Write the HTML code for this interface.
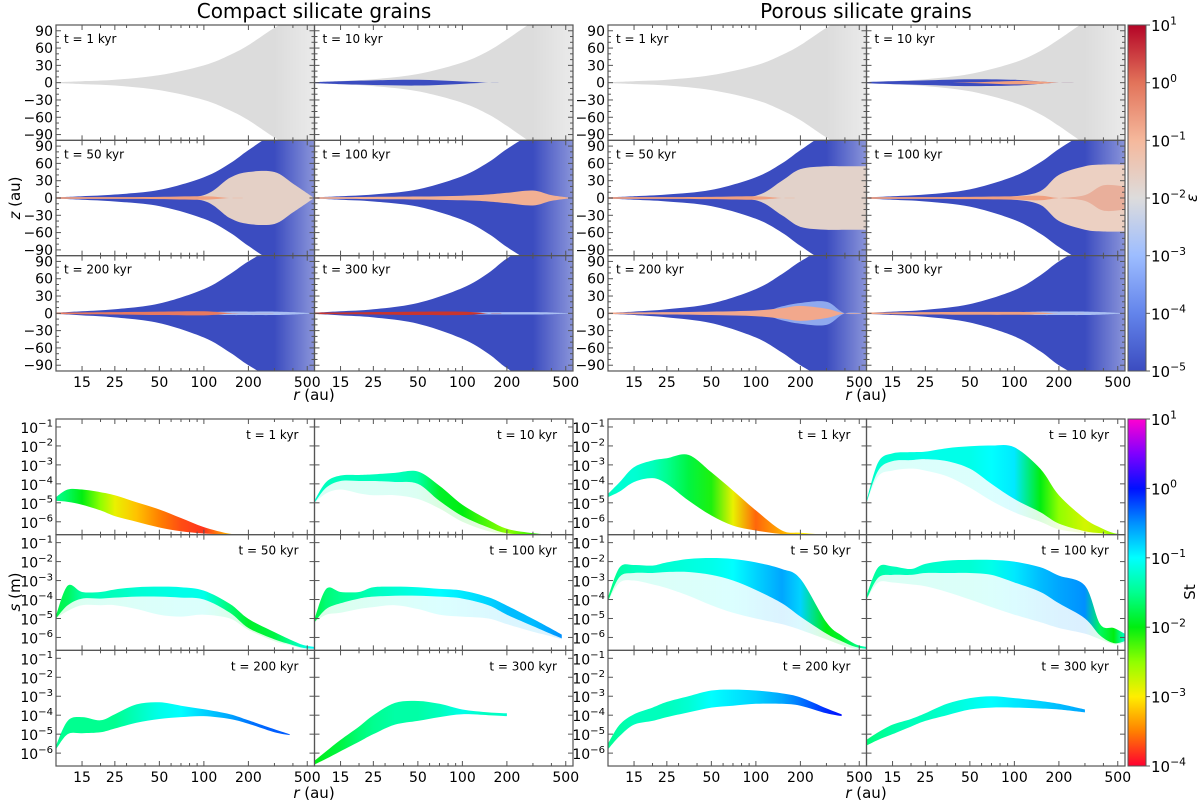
<!DOCTYPE html>
<html><head><meta charset="utf-8"><style>
html,body{margin:0;padding:0;background:#fff;}
svg{display:block;font-family:"DejaVu Sans","Liberation Sans",sans-serif;}
</style></head><body>
<svg id="fig" width="1200" height="804" viewBox="0 0 1200 804" xmlns="http://www.w3.org/2000/svg">
<defs id="defs">
<linearGradient id="epsbar" x1="0" y1="1" x2="0" y2="0">
<stop offset="0" stop-color="#3b4cc0"/><stop offset="0.1667" stop-color="#6384eb"/><stop offset="0.3333" stop-color="#9dbdff"/><stop offset="0.5" stop-color="#dddcdc"/><stop offset="0.6667" stop-color="#f5b89c"/><stop offset="0.8333" stop-color="#e2735a"/><stop offset="1" stop-color="#b40426"/>
</linearGradient>
<linearGradient id="stbar" x1="0" y1="1" x2="0" y2="0">
<stop offset="0" stop-color="#ff0030"/><stop offset="0.1" stop-color="#ff8000"/><stop offset="0.2" stop-color="#ffee00"/><stop offset="0.3" stop-color="#90ff00"/><stop offset="0.4" stop-color="#00ee10"/><stop offset="0.5" stop-color="#00ff90"/><stop offset="0.6" stop-color="#00ffff"/><stop offset="0.7" stop-color="#0090ff"/><stop offset="0.8" stop-color="#0010ff"/><stop offset="0.9" stop-color="#8000ff"/><stop offset="1" stop-color="#ff00d0"/>
</linearGradient>
</defs>
<text x="314" y="18" font-size="20" text-anchor="middle">Compact silicate grains</text>
<text x="866" y="18" font-size="20" text-anchor="middle">Porous silicate grains</text>
<text transform="translate(20,198) rotate(-90)" font-size="15" text-anchor="middle"><tspan font-style="italic">z</tspan> (au)</text>
<text transform="translate(20,592) rotate(-90)" font-size="15" text-anchor="middle"><tspan font-style="italic">s</tspan> (m)</text>
<text x="314" y="400" font-size="15" text-anchor="middle"><tspan font-style="italic">r</tspan> (au)</text>
<text x="866" y="400" font-size="15" text-anchor="middle"><tspan font-style="italic">r</tspan> (au)</text>
<text x="314" y="798" font-size="15" text-anchor="middle"><tspan font-style="italic">r</tspan> (au)</text>
<text x="866" y="798" font-size="15" text-anchor="middle"><tspan font-style="italic">r</tspan> (au)</text>
<text transform="translate(1197,198) rotate(-90)" font-size="15" text-anchor="middle" font-style="italic">ε</text>
<text transform="translate(1195,592) rotate(-90)" font-size="15" text-anchor="middle">St</text>
<rect x="1128" y="25" width="18" height="346" fill="url(#epsbar)" stroke="#555" stroke-width="1"/>
<rect x="1128" y="419" width="18" height="347" fill="url(#stbar)" stroke="#555" stroke-width="1"/>
<g id="plots"></g>
</svg>
<script>
// ---------- data ----------
const timesLabels = ["t = 1 kyr","t = 10 kyr","t = 50 kyr","t = 100 kyr","t = 200 kyr","t = 300 kyr"];
const xTickLabels = [15,25,50,100,200,500];
const xMinor = [20,30,40,60,70,80,90,300,400];
const zTickLabels = [90,60,30,0,-30,-60,-90];
const sTickExps = [-1,-2,-3,-4,-5,-6];
const epsTickExps = [1,0,-1,-2,-3,-4,-5];
const stTickExps = [1,0,-1,-2,-3,-4];
// top panels: half-height (au) of layers on rTop grid
const rTop = [10,15,25,50,100,150,200,300,400,557];
const hGrayC1 = [0.8,2.5,5,13,30,48,65,95,110,110];
const hGrayC10 = [1,3,6,15,35,55,75,105,115,115];
const hBlueC10 = [1,2.5,4,5,2,0,0,0,0,0];
const hBlueC50 = [1,3,6,14,36,60,83,112,120,120];
const hCreamC50 = [0,0,0,0,5,35,45,45,25,0];
const hMidC50 = [1.5,1.5,1.5,2,3,0,0,0,0,0];
const hBlueC100 = [1,3,6,15,38,62,85,112,120,120];
const hCoreC100 = [1.5,1.5,2,2.5,4,6,9,13,5,0];
const hBlueC200 = [1,3.5,7,17,42,68,90,115,125,125];
const hBandC200 = [0,0,0,0,2,3,3,3,2,0];
const hCoreC200 = [1.5,1.5,2,3,3.5,0.5,0,0,0,0];
const hBlueC300 = [1,3.5,7,18,44,70,95,120,125,125];
const hBandC300 = [0,0,0,0,1.5,2,2,2,1.5,0];
const hCoreC300 = [1.5,1.5,2,3,3,0,0,0,0,0];
const hGrayP1 = [0.8,2.5,5,13,30,48,65,95,110,110];
const hGrayP10 = [1,3,6,15,35,55,75,105,115,115];
const hBlueP10 = [1,2.5,4,6,5,2,0,0,0,0];
const hOrangeP10 = [0,0,0,0.5,3,2,0,0,0,0];
const hBlueP50 = [1,3,6,14,36,60,83,112,120,120];
const hCreamP50 = [0,0,0,0,4,30,50,55,55,55];
const hMidP50 = [1.5,1.5,1.5,2,3,0,0,0,0,0];
const hBlueP100 = [1,3,6,15,38,62,85,112,120,120];
const hCreamP100 = [0,0,0,0,3,12,40,55,58,58];
const hMidP100 = [1.5,1.5,1.5,2,3,4,0,0,0,0];
const hBlobP100 = [0,0,0,0,0,0,0,5,22,20];
const hBlueP200 = [1,3,7,17,42,68,90,115,125,125];
const hRingP200 = [0,0,0,0,0,12,18,20,0,0];
const hCoreP200 = [1.5,1.5,2,3,5,9,13,8,0,0];
const hBlueP300 = [1,3,6,16,40,66,90,115,125,125];
const hBandP300 = [0,0,0,0,2,3,3,3,2,0];
const hCoreP300 = [1.5,1.5,2,2.5,2.5,1.5,0,0,0,0];
// bottom panels: log10 s envelopes and log10 St on rBot grid
const rBot = [10,12,15,20,25,35,50,70,100,150,200,300,380,470,557];
const upC1 = [-4.7,-4.3,-4.3,-4.44,-4.6,-4.97,-5.35,-5.8,-6.28,-6.63,-6.67,-6.68,-6.68,-6.68,-6.68];
const loC1 = [-4.9,-4.95,-5.1,-5.4,-5.7,-6.0,-6.3,-6.5,-6.62,-6.67,-6.68,-6.7,-6.7,-6.7,-6.7];
const stC1 = [-1.5,-1.7,-2,-2.5,-2.9,-3.2,-3.5,-3.7,-3.8,-3.2,-3,-3,-3,-3,-3];
const upC10 = [-4.88,-3.9,-3.56,-3.53,-3.5,-3.42,-3.35,-4.1,-5.1,-5.9,-6.37,-6.6,-6.66,-6.68,-6.68];
const loC10 = [-5.0,-4.2,-3.85,-3.85,-3.85,-3.9,-4.0,-4.9,-5.7,-6.3,-6.6,-6.68,-6.7,-6.7,-6.7];
const spC10 = [-5,-4.5,-4.3,-4.5,-4.6,-4.6,-4.8,-5.3,-6.0,-6.5,-6.65,-6.7,-6.7,-6.7,-6.7];
const stC10 = [-1.2,-1.3,-1.3,-1.3,-1.3,-1.3,-1.4,-1.9,-2.0,-2.3,-2.5,-2.2,-2.1,-2,-2];
const upC50 = [-4.84,-3.27,-3.6,-3.6,-3.47,-3.35,-3.32,-3.35,-3.53,-4.23,-5.02,-5.72,-6.1,-6.4,-6.5];
const loC50 = [-5.0,-4.3,-3.95,-3.95,-3.9,-3.85,-3.85,-3.9,-4.0,-4.7,-5.5,-6.1,-6.35,-6.55,-6.6];
const spC50 = [-5.0,-4.6,-4.3,-4.3,-4.3,-4.5,-4.8,-4.9,-4.8,-5.0,-5.6,-6.2,-6.4,-6.6,-6.65];
const stC50 = [-1.8,-1.7,-1.4,-1.3,-1.3,-1.2,-1.15,-1.1,-1.1,-1.6,-1.9,-1.8,-1.5,-1.2,-1.0];
const upC100 = [-5.02,-3.44,-3.6,-3.6,-3.35,-3.32,-3.35,-3.44,-3.53,-3.88,-4.32,-5.02,-5.45,-5.85,null];
const loC100 = [-5.2,-4.5,-4.2,-3.95,-3.85,-3.8,-3.8,-3.85,-3.95,-4.3,-4.8,-5.4,-5.75,-6.05,null];
const spC100 = [-5.2,-4.8,-4.7,-4.5,-4.4,-4.3,-4.5,-4.8,-4.9,-5.0,-5.3,-5.7,-5.9,-6.1,null];
const stC100 = [-1.8,-1.6,-1.5,-1.4,-1.3,-1.2,-1.1,-1.0,-0.9,-0.8,-0.7,-0.7,-0.6,-0.5,null];
const upC200 = [-5.6,-4.3,-4.1,-4.27,-3.95,-3.43,-3.32,-3.5,-3.69,-3.95,-4.27,-4.74,-5.0,null,null];
const loC200 = [-5.8,-5.0,-4.95,-4.9,-4.7,-4.4,-4.2,-4.1,-4.05,-4.2,-4.45,-4.9,-5.05,null,null];
const stC200 = [-1.5,-1.5,-1.5,-1.5,-1.5,-1.3,-1.1,-1,-0.8,-0.6,-0.4,-0.3,-0.3,null,null];
const upC300 = [-6.4,-5.9,-5.3,-4.6,-4.0,-3.35,-3.25,-3.4,-3.7,-3.85,-3.9,null,null,null,null];
const loC300 = [-6.6,-6.3,-5.9,-5.4,-5.0,-4.5,-4.3,-4.1,-3.95,-4.0,-4.05,null,null,null,null];
const stC300 = [-2,-1.9,-1.8,-1.6,-1.5,-1.4,-1.4,-1.3,-1.1,-1.3,-1.2,null,null,null,null];
const upP1 = [-4.53,-3.91,-3.12,-2.77,-2.65,-2.47,-3.39,-4.35,-5.4,-6.46,-6.58,-6.68,-6.68,-6.68,-6.68];
const loP1 = [-4.7,-4.4,-3.9,-3.7,-4.0,-4.88,-5.67,-6.2,-6.46,-6.65,-6.68,-6.7,-6.7,-6.7,-6.7];
const stP1 = [-1.3,-1.2,-1.2,-1.3,-1.5,-1.8,-2.1,-2.9,-3.6,-3.3,-3,-3,-3,-3,-3];
const upP10 = [-4.9,-2.86,-2.39,-2.33,-2.3,-2.12,-2.02,-1.98,-2.07,-3.21,-4.6,-5.84,-6.3,-6.6,-6.65];
const loP10 = [-5.0,-3.3,-2.8,-2.75,-2.7,-2.8,-3.2,-4.0,-4.8,-5.5,-6.1,-6.5,-6.6,-6.68,-6.7];
const spP10 = [-5,-3.6,-3.3,-3.2,-3.3,-3.6,-4.2,-4.9,-5.5,-6.0,-6.4,-6.6,-6.65,-6.7,-6.7];
const stP10 = [-1.3,-1.2,-1.2,-1.15,-1.1,-1.1,-1.1,-1.0,-0.9,-2.0,-2.5,-2.8,-2.7,-2.5,-2.3];
const upP50 = [-3.88,-2.3,-2.18,-2.21,-2.04,-1.86,-1.81,-1.86,-2.04,-2.39,-2.91,-5.2,-5.9,-6.35,-6.5];
const loP50 = [-4.1,-2.8,-2.6,-2.6,-2.55,-2.55,-2.7,-3.0,-3.5,-4.2,-4.9,-5.8,-6.2,-6.5,-6.6];
const spP50 = [-4.1,-3.1,-3.0,-3.2,-3.4,-3.8,-4.3,-4.7,-5.0,-5.3,-5.6,-6.1,-6.4,-6.6,-6.65];
const stP50 = [-1.6,-1.4,-1.3,-1.25,-1.2,-1.15,-1.1,-1.0,-0.8,-0.6,-0.8,-2.0,-1.9,-1.6,-1.3];
const upP100 = [-3.79,-2.3,-2.25,-2.39,-2.12,-1.95,-1.91,-1.91,-2.0,-2.3,-2.74,-3.27,-5.3,-5.5,-5.8];
const loP100 = [-4.0,-2.85,-2.7,-2.7,-2.6,-2.6,-2.6,-2.7,-3.1,-3.6,-4.2,-5.0,-5.9,-6.3,-6.2];
const spP100 = [-4.0,-3.1,-3.1,-3.2,-3.3,-3.6,-4.0,-4.4,-4.8,-5.2,-5.5,-5.8,-6.1,-6.35,-6.3];
const stP100 = [-1.5,-1.4,-1.3,-1.3,-1.25,-1.2,-1.2,-1.1,-0.9,-0.7,-0.6,-0.5,-1.7,-2.0,-1.2];
const upP200 = [-5.5,-4.5,-3.95,-3.6,-3.3,-3.0,-2.7,-2.65,-2.7,-2.85,-3.06,-3.64,-3.95,null,null];
const loP200 = [-5.8,-5.1,-4.5,-4.3,-4.1,-3.85,-3.6,-3.5,-3.4,-3.4,-3.5,-3.9,-4.05,null,null];
const stP200 = [-1.5,-1.4,-1.3,-1.3,-1.3,-1.2,-1.0,-0.9,-0.8,-0.6,-0.4,-0.1,0,null,null];
const upP300 = [-5.3,-4.9,-4.5,-4.2,-3.9,-3.4,-3.1,-3.0,-3.1,-3.25,-3.4,-3.7,null,null,null];
const loP300 = [-5.6,-5.3,-5.0,-4.6,-4.3,-4.0,-3.7,-3.6,-3.6,-3.65,-3.7,-3.85,null,null,null];
const stP300 = [-1.6,-1.5,-1.4,-1.3,-1.3,-1.2,-1.1,-1.0,-0.9,-0.8,-0.7,-0.6,null,null,null];

// ---------- layout ----------
const NS = "http://www.w3.org/2000/svg";
const GX = [56, 608], W = 258.5, TOPY = 25, TH = 115.33, BOTY = 419, BH = 115.67;
const XMIN = 1, XSPAN = 1.748, SMAX = -0.58, SSPAN = 6.1;
function xS(x0, r){ return x0 + (Math.log10(r) - XMIN) / XSPAN * W; }
function zS(y0, z){ return y0 + TH/2 - z * (TH/2) / 100; }
function sS(y0, ls){ return y0 + (SMAX - ls) / SSPAN * BH; }
const plots = document.getElementById('plots');
const defs = document.getElementById('defs');
function mk(tag, attrs, parent){ const e = document.createElementNS(NS, tag); for (const k in attrs) e.setAttribute(k, attrs[k]); (parent||plots).appendChild(e); return e; }
function crPath(pts){
  if (!pts.length) return "";
  let d = "M" + pts[0][0].toFixed(2) + "," + pts[0][1].toFixed(2);
  for (let i = 0; i < pts.length - 1; i++) {
    const p0 = pts[Math.max(0,i-1)], p1 = pts[i], p2 = pts[i+1], p3 = pts[Math.min(pts.length-1,i+2)];
    const c1 = [p1[0] + (p2[0]-p0[0])/6, p1[1] + (p2[1]-p0[1])/6];
    const c2 = [p2[0] - (p3[0]-p1[0])/6, p2[1] - (p3[1]-p1[1])/6];
    d += "C" + c1[0].toFixed(2) + "," + c1[1].toFixed(2) + " " + c2[0].toFixed(2) + "," + c2[1].toFixed(2) + " " + p2[0].toFixed(2) + "," + p2[1].toFixed(2);
  }
  return d;
}
function crCont(pts){ const d = crPath(pts); return "L" + d.slice(1); }
const stStops = [[-4,[255,0,48]],[-3.5,[255,128,0]],[-3,[255,238,0]],[-2.5,[144,255,0]],[-2,[0,238,16]],[-1.5,[0,255,144]],[-1,[0,255,255]],[-0.5,[0,144,255]],[0,[0,16,255]],[0.5,[128,0,255]],[1,[255,0,208]]];
function stColor(v){
  v = Math.max(-4, Math.min(1, v));
  for (let i = 0; i < stStops.length - 1; i++) {
    const a = stStops[i], b = stStops[i+1];
    if (v <= b[0]) { const t = (v - a[0]) / (b[0] - a[0]); const c = a[1].map((x,j)=>Math.round(x + (b[1][j]-x)*t)); return "rgb(" + c.join(",") + ")"; }
  }
  return "rgb(255,0,208)";
}
function exp10(parent, x, y, e, anchor, size){
  const t = mk('text', {x:x, y:y, 'font-size':size, 'text-anchor':anchor}, parent);
  t.textContent = "10";
  const s = document.createElementNS(NS, 'tspan');
  s.setAttribute('dy', -size*0.45); s.setAttribute('font-size', size*0.72);
  s.textContent = (e < 0 ? "\u2212" : "") + Math.abs(e);
  t.appendChild(s);
  return t;
}

function frame(g, x0, y0, h, kind, showX, showY, name){
  const fr = mk('rect', {x:x0, y:y0, width:W, height:h, fill:'none', stroke:'#555', 'stroke-width':1.2}, g);
  
  
  const tk = mk('g', {stroke:'#555', 'stroke-width':1}, g);
  
  
  xTickLabels.forEach(v => { const x = xS(x0, v);
    mk('line', {x1:x, y1:y0+h, x2:x, y2:y0+h-5}, tk); mk('line', {x1:x, y1:y0, x2:x, y2:y0+5}, tk); });
  xMinor.forEach(v => { const x = xS(x0, v);
    mk('line', {x1:x, y1:y0+h, x2:x, y2:y0+h-3}, tk); mk('line', {x1:x, y1:y0, x2:x, y2:y0+3}, tk); });
  if (kind === 'z') {
    for (let z = -90; z <= 90; z += 10) { const y = zS(y0, z), L = (z % 30 === 0) ? 5 : 3;
      mk('line', {x1:x0, y1:y, x2:x0+L, y2:y}, tk); mk('line', {x1:x0+W, y1:y, x2:x0+W-L, y2:y}, tk); }
  } else {
    sTickExps.forEach(e => { const y = sS(y0, e);
      mk('line', {x1:x0, y1:y, x2:x0+5, y2:y}, tk); mk('line', {x1:x0+W, y1:y, x2:x0+W-5, y2:y}, tk); });
  }
  if (showX) {
    xTickLabels.forEach(v => { const t = mk('text', {x:xS(x0, v), y:y0+h+16, 'font-size':14, 'text-anchor':'middle'}, g);
      t.textContent = v;
      
       });
  }
  if (showY) {
    if (kind === 'z') {
      zTickLabels.forEach(z => { const t = mk('text', {x:x0-3, y:zS(y0, z)+5, 'font-size':14, 'text-anchor':'end'}, g);
        t.textContent = (z < 0 ? "\u2212" : "") + Math.abs(z);
        
         });
    } else {
      sTickExps.forEach(e => { const t = exp10(g, x0-3, sS(y0, e)+6, e, 'end', 14);
        
         });
    }
  }
}

let pid = 0;
function topPanel(gi, col, row, layers, label){
  const x0 = GX[gi] + col*W, y0 = TOPY + row*TH; pid++;
  const g = mk('g', {});
  
  
  const cp = mk('clipPath', {id:'cp'+pid}, defs); mk('rect', {x:x0, y:y0, width:W, height:TH}, cp);
  const fg = mk('linearGradient', {id:'fade'+pid, gradientUnits:'userSpaceOnUse', x1:xS(x0,300), y1:0, x2:x0+W, y2:0}, defs);
  mk('stop', {offset:0, 'stop-color':'#fff', 'stop-opacity':1}, fg); mk('stop', {offset:1, 'stop-color':'#fff', 'stop-opacity':0.6}, fg);
  const mask = mk('mask', {id:'mk'+pid, maskUnits:'userSpaceOnUse', x:x0, y:y0, width:W, height:TH}, defs);
  mk('rect', {x:x0, y:y0, width:W, height:TH, fill:'url(#fade'+pid+')'}, mask);
  const cg = mk('g', {'clip-path':'url(#cp'+pid+')'}, g);
  layers.forEach((L, li) => {
    const up = [], dn = [];
    rTop.forEach((r, i) => { up.push([xS(x0, r), zS(y0, L.h[i])]); dn.push([xS(x0, r), zS(y0, -L.h[i])]); });
    dn.reverse();
    const p = mk('path', {d: crPath(up) + crCont(dn) + "Z", fill:L.c, opacity: L.o || 1}, cg);
    if (li === 0) p.setAttribute('mask', 'url(#mk'+pid+')');
    
    
  });
  const t = mk('text', {x:x0+8, y:y0+18, 'font-size':12}, g); t.textContent = label;
  
  
  frame(g, x0, y0, TH, 'z', row === 2, col === 0, 'disk-panel');
}

function botPanel(gi, col, row, up, lo, sp, st, label){
  const x0 = GX[gi] + col*W, y0 = BOTY + row*BH; pid++;
  const g = mk('g', {});
  
  
  const cp = mk('clipPath', {id:'cp'+pid}, defs); mk('rect', {x:x0, y:y0, width:W, height:BH}, cp);
  const gr = mk('linearGradient', {id:'sg'+pid, gradientUnits:'userSpaceOnUse', x1:x0, y1:0, x2:x0+W, y2:0}, defs);
  rBot.forEach((r, i) => { if (st[i] === null) return;
    mk('stop', {offset: ((xS(x0, r) - x0) / W).toFixed(4), 'stop-color': stColor(st[i])}, gr); });
  const cg = mk('g', {'clip-path':'url(#cp'+pid+')'}, g);
  const idx = rBot.map((r,i)=>i).filter(i => up[i] !== null);
  function band(top, bot, op, nm){
    const a = idx.map(i => [xS(x0, rBot[i]), sS(y0, top[i])]);
    const b = idx.map(i => [xS(x0, rBot[i]), sS(y0, bot[i])]).reverse();
    const p = mk('path', {d: crPath(a) + crCont(b) + "Z", fill:'url(#sg'+pid+')', opacity:op}, cg);
    
    
  }
  if (sp) band(lo, sp, 0.14, 'sparse-particles');
  band(up, lo, 1, 'dense-particles');
  const t = mk('text', {x:x0+W-16, y:y0+20, 'font-size':12, 'text-anchor':'end'}, g); t.textContent = label;
  
  
  frame(g, x0, y0, BH, 's', row === 2, col === 0, 'size-panel');
}

const BLUE = '#3b4cc0', GRAY = '#dcdcdc';
topPanel(0,0,0,[{c:GRAY,h:hGrayC1,n:'gas-dominated-region'}],timesLabels[0]);
topPanel(0,1,0,[{c:GRAY,h:hGrayC10,n:'gray-region'},{c:BLUE,h:hBlueC10,n:'dust-poor-midplane'}],timesLabels[1]);
topPanel(0,0,1,[{c:BLUE,h:hBlueC50,n:'dust-poor-envelope'},{c:'#e4d0c6',h:hCreamC50,n:'cream-core'},{c:'#f0a080',h:hMidC50,n:'midplane-layer'}],timesLabels[2]);
topPanel(0,1,1,[{c:BLUE,h:hBlueC100,n:'dust-poor-envelope'},{c:'#f2b093',h:hCoreC100,n:'midplane-layer'}],timesLabels[3]);
topPanel(0,0,2,[{c:BLUE,h:hBlueC200,n:'dust-poor-envelope'},{c:'#a9bff2',h:hBandC200,n:'light-band'},{c:'#e8795f',h:hCoreC200,n:'midplane-layer'}],timesLabels[4]);
topPanel(0,1,2,[{c:BLUE,h:hBlueC300,n:'dust-poor-envelope'},{c:'#a9bff2',h:hBandC300,n:'light-band'},{c:'#c8352e',h:hCoreC300,n:'midplane-layer'}],timesLabels[5]);
topPanel(1,0,0,[{c:GRAY,h:hGrayP1,n:'gas-dominated-region'}],timesLabels[0]);
topPanel(1,1,0,[{c:GRAY,h:hGrayP10,n:'gray-region'},{c:BLUE,h:hBlueP10,n:'dust-poor-midplane'},{c:'#f0a080',h:hOrangeP10,n:'midplane-layer'}],timesLabels[1]);
topPanel(1,0,1,[{c:BLUE,h:hBlueP50,n:'dust-poor-envelope'},{c:'#e2d2ca',h:hCreamP50,n:'cream-core'},{c:'#f0a080',h:hMidP50,n:'midplane-layer'}],timesLabels[2]);
topPanel(1,1,1,[{c:BLUE,h:hBlueP100,n:'dust-poor-envelope'},{c:'#ecd0c2',h:hCreamP100,n:'cream-core'},{c:'#f0a080',h:hMidP100,n:'midplane-layer'},{c:'#e89a80',h:hBlobP100,n:'outer-blob',o:0.6}],timesLabels[3]);
topPanel(1,0,2,[{c:BLUE,h:hBlueP200,n:'dust-poor-envelope'},{c:'#8fa9ee',h:hRingP200,n:'light-ring'},{c:'#f2a88c',h:hCoreP200,n:'midplane-layer'}],timesLabels[4]);
topPanel(1,1,2,[{c:BLUE,h:hBlueP300,n:'dust-poor-envelope'},{c:'#a9bff2',h:hBandP300,n:'light-band'},{c:'#f0a080',h:hCoreP300,n:'midplane-layer'}],timesLabels[5]);
botPanel(0,0,0,upC1,loC1,null,stC1,timesLabels[0]);
botPanel(0,1,0,upC10,loC10,spC10,stC10,timesLabels[1]);
botPanel(0,0,1,upC50,loC50,spC50,stC50,timesLabels[2]);
botPanel(0,1,1,upC100,loC100,spC100,stC100,timesLabels[3]);
botPanel(0,0,2,upC200,loC200,null,stC200,timesLabels[4]);
botPanel(0,1,2,upC300,loC300,null,stC300,timesLabels[5]);
botPanel(1,0,0,upP1,loP1,null,stP1,timesLabels[0]);
botPanel(1,1,0,upP10,loP10,spP10,stP10,timesLabels[1]);
botPanel(1,0,1,upP50,loP50,spP50,stP50,timesLabels[2]);
botPanel(1,1,1,upP100,loP100,spP100,stP100,timesLabels[3]);
botPanel(1,0,2,upP200,loP200,null,stP200,timesLabels[4]);
botPanel(1,1,2,upP300,loP300,null,stP300,timesLabels[5]);

const cbg = mk('g', {});


epsTickExps.forEach(e => { const y = 25 + 346 * (1 - (e + 5) / 6);
  mk('line', {x1:1146, y1:y, x2:1150, y2:y, stroke:'#555'}, cbg);
  const t = exp10(cbg, 1151, y + 6, e, 'start', 15);
  
   });
stTickExps.forEach(e => { const y = 419 + 347 * (1 - (e + 4) / 5);
  mk('line', {x1:1146, y1:y, x2:1150, y2:y, stroke:'#555'}, cbg);
  const t = exp10(cbg, 1151, y + 6, e, 'start', 15);
  
   });
</script>
</body></html>
